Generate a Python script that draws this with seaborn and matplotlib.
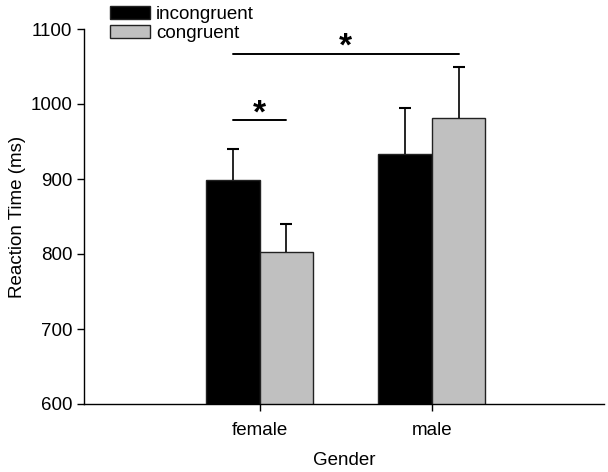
import pandas as pd
import seaborn as sns
import numpy as np
import matplotlib.pyplot as plt
from matplotlib.patches import Patch

genders = ['female', 'male']
conditions = ['incongruent', 'congruent']
incongruent_rt = [899, 933]
congruent_rt = [803, 981]
incongruent_err = [41, 62]
congruent_err = [37, 68]

df = pd.DataFrame({
    'Gender': genders * 2,
    'Condition': ['incongruent'] * 2 + ['congruent'] * 2,
    'RT': incongruent_rt + congruent_rt,
    'err': incongruent_err + congruent_err,
})

sns.set_style('ticks', {'text.color': 'black', 'axes.labelcolor': 'black',
                        'xtick.color': 'black', 'ytick.color': 'black',
                        'axes.edgecolor': 'black'})
plt.rcParams['font.family'] = ['Liberation Sans', 'DejaVu Sans']
fs = 13.5

fig = plt.figure(figsize=(6.08, 4.72), dpi=100)
ax = fig.add_axes([84 / 608, (472 - 404) / 472, 520 / 608, 375 / 472])

colors = {'incongruent': 'black', 'congruent': '#c0c0c0'}
sns.barplot(data=df, x='Gender', y='RT', hue='Condition', hue_order=conditions,
            palette=colors, errorbar=None, width=0.62, edgecolor='#222222',
            linewidth=1, ax=ax, legend=False)

# upward-only error bars (no cap at the bar top)
for cont, cond in zip(ax.containers, conditions):
    sub = df[df['Condition'] == cond]
    for bar, e in zip(cont, sub['err']):
        xc = bar.get_x() + bar.get_width() / 2
        top = bar.get_height()
        ax.vlines(xc, top, top + e, color='black', lw=1.2, zorder=3)
        ax.plot([xc], [top + e], marker='_', ms=9, mew=1.5, color='black', zorder=3)

ax.set_ylim(600, 1100)
ax.set_xlim(-1.02, 2.0)
ax.set_yticks(np.arange(600, 1101, 100))
ax.set_ylabel('Reaction Time (ms)', fontsize=fs, labelpad=3)
ax.set_xlabel('Gender', fontsize=fs, labelpad=9)
ax.tick_params(axis='both', labelsize=fs, length=5, width=1, color='black', labelcolor='black')
ax.tick_params(axis='x', pad=8)
for s in ['left', 'bottom']:
    ax.spines[s].set_linewidth(1)
    ax.spines[s].set_color('black')
sns.despine(ax=ax)

# significance markers
bars_in = ax.containers[0]
bars_co = ax.containers[1]
fx0 = bars_in[0].get_x() + bars_in[0].get_width() / 2
fx1 = bars_co[0].get_x() + bars_co[0].get_width() / 2
mx1 = bars_co[1].get_x() + bars_co[1].get_width() / 2
ax.plot([fx0, fx1], [979, 979], color='black', lw=1.4, clip_on=False)
ax.text((fx0 + fx1) / 2, 966, '*', ha='center', va='bottom', fontsize=24, fontweight='bold')
ax.plot([fx0, mx1], [1067, 1067], color='black', lw=1.4, clip_on=False)
ax.text((fx0 + mx1) / 2, 1055, '*', ha='center', va='bottom', fontsize=24, fontweight='bold')

handles = [Patch(facecolor=colors[c], edgecolor='#222222', label=c) for c in conditions]
fig.legend(handles=handles, loc='upper left', bbox_to_anchor=(110 / 608, 1 - 6 / 472),
           frameon=False, fontsize=fs, handlelength=2.15, handleheight=0.65,
           handletextpad=0.3, labelspacing=0.1, borderaxespad=0, borderpad=0.0)

fig.savefig('out.png', dpi=100)
